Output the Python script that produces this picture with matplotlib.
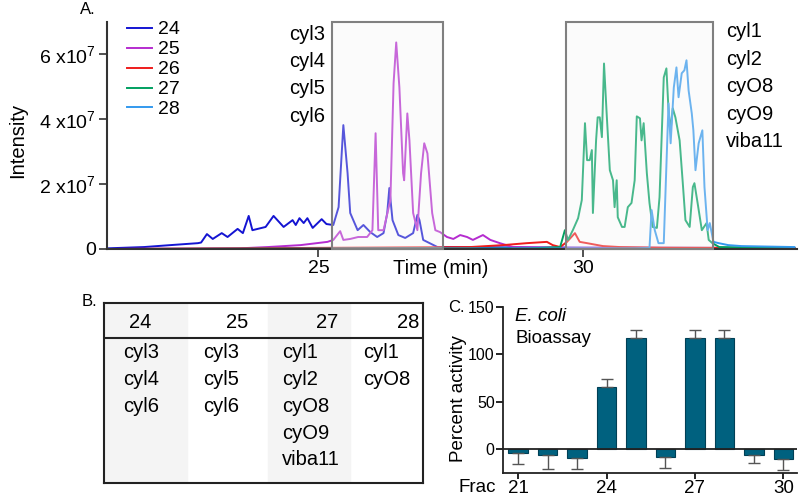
import matplotlib
matplotlib.use("Agg")
import matplotlib.pyplot as plt
from matplotlib.patches import Rectangle

plt.rcParams['font.family'] = ['Liberation Sans', 'DejaVu Sans']
plt.rcParams['mathtext.fontset'] = 'custom'
plt.rcParams['mathtext.rm'] = 'Liberation Sans'
plt.rcParams['mathtext.it'] = 'Liberation Sans:italic'

# --- A: chromatograms (intensity in units of 1e7) ---
t24 = [21.0, 21.7, 22.2, 22.72, 22.78, 22.89, 23.0, 23.17, 23.28, 23.47, 23.57, 23.68, 23.75, 24.0, 24.15,
       24.34, 24.51, 24.57, 24.64, 24.72, 24.79, 24.89, 25.06, 25.15, 25.28, 25.38, 25.47, 25.55, 25.6, 25.74,
       25.85, 25.98, 26.11, 26.23, 26.3, 26.34, 26.4, 26.51, 26.64, 26.79, 26.87, 26.91, 26.98, 27.25, 28.5,
       30.0, 34.0]
i24 = [0.02, 0.06, 0.12, 0.18, 0.2, 0.46, 0.31, 0.49, 0.37, 0.62, 0.49, 1.02, 0.58, 0.68, 1.02,
       0.68, 0.89, 0.74, 0.95, 0.8, 0.95, 0.65, 0.92, 0.77, 0.74, 1.29, 3.82, 2.34, 1.11, 0.58,
       0.74, 0.52, 0.37, 0.49, 1.11, 1.88, 0.89, 0.43, 0.34, 0.49, 1.05, 0.89, 0.28, 0.06, 0.05,
       0.04, 0.03]

t25 = [21.0, 23.5, 24.04, 24.66, 25.17, 25.28, 25.41, 25.47, 25.6, 25.75, 25.92, 26.02, 26.08, 26.13,
       26.23, 26.36, 26.42, 26.47, 26.53, 26.6, 26.62, 26.68, 26.72, 26.79, 26.87, 26.94, 27.0, 27.06,
       27.15, 27.21, 27.3, 27.43, 27.55, 27.68, 27.81, 27.92, 28.11, 28.25, 28.43, 28.68, 29.5, 34.0]
i25 = [0.0, 0.02, 0.06, 0.12, 0.22, 0.28, 0.55, 0.28, 0.31, 0.37, 0.37, 0.58, 3.57, 0.58,
       0.58, 1.51, 5.11, 6.37, 4.98, 2.34, 2.12, 4.18, 3.35, 1.11, 0.58, 2.34, 3.26, 2.95,
       1.11, 0.58, 0.52, 0.37, 0.31, 0.43, 0.37, 0.28, 0.43, 0.28, 0.18, 0.06, 0.04, 0.03]

t26 = [21.0, 27.87, 28.49, 28.94, 29.32, 29.43, 29.57, 29.7, 29.85, 29.94, 30.08, 30.38, 30.7, 31.5, 34.0]
i26 = [0.0, 0.06, 0.12, 0.18, 0.22, 0.12, 0.06, 0.22, 0.49, 0.22, 0.18, 0.09, 0.06, 0.04, 0.03]

t27 = [21.0, 29.0, 29.57, 29.66, 29.72, 29.81, 29.91, 29.98, 30.04, 30.08, 30.13, 30.17, 30.19, 30.25,
       30.28, 30.32, 30.36, 30.4, 30.45, 30.51, 30.57, 30.6, 30.64, 30.66, 30.74, 30.79, 30.85, 30.92,
       30.98, 31.02, 31.08, 31.11, 31.15, 31.21, 31.26, 31.32, 31.4, 31.45, 31.53, 31.58, 31.62, 31.66,
       31.7, 31.75, 31.83, 31.89, 31.94, 32.02, 32.08, 32.11, 32.17, 32.25, 32.34, 32.38, 32.45, 32.58, 34.0]
i27 = [0.0, 0.02, 0.06, 0.58, 0.28, 0.58, 0.95, 1.51, 3.88, 2.74, 2.74, 3.05, 1.11, 3.35,
       4.06, 4.06, 3.45, 5.72, 4.18, 2.43, 2.12, 1.29, 2.12, 0.98, 0.68, 0.68, 1.29, 1.42,
       2.12, 4.09, 4.03, 3.35, 3.88, 2.34, 1.42, 0.68, 0.65, 1.6, 5.29, 5.57, 4.28, 3.66,
       4.34, 4.06, 3.35, 2.03, 0.89, 0.68, 1.91, 2.03, 1.42, 0.58, 0.8, 0.28, 0.18, 0.06, 0.03]

t28 = [21.0, 31.0, 31.26, 31.3, 31.36, 31.43, 31.53, 31.62, 31.66, 31.72, 31.77, 31.81, 31.87, 31.92,
       31.96, 32.0, 32.06, 32.09, 32.13, 32.19, 32.26, 32.3, 32.36, 32.4, 32.47, 32.57, 32.75, 33.0, 34.0]
i28 = [0.0, 0.02, 0.03, 1.2, 0.58, 0.18, 0.18, 4.49, 3.26, 4.98, 5.6, 4.68, 5.42, 5.51,
       5.82, 4.89, 4.18, 3.66, 2.43, 3.26, 3.66, 1.91, 0.58, 0.8, 0.22, 0.18, 0.12, 0.09, 0.06]

trace_names = ["24", "25", "26", "27", "28"]
trace_colors = ["#1414d2", "#b52ccf", "#ee1c1c", "#00a060", "#3399ee"]

windows = [(25.25, 27.36), (29.68, 32.47)]
window1_labels = ["cyl3", "cyl4", "cyl5", "cyl6"]
window2_labels = ["cyl1", "cyl2", "cyO8", "cyO9", "viba11"]

# --- B: table ---
table_fracs = ["24", "25", "27", "28"]
table_compounds = [["cyl3", "cyl4", "cyl6"],
                   ["cyl3", "cyl5", "cyl6"],
                   ["cyl1", "cyl2", "cyO8", "cyO9", "viba11"],
                   ["cyl1", "cyO8"]]

# --- C: bioassay ---
fracs = [21, 22, 23, 24, 25, 26, 27, 28, 29, 30]
activity = [-4.5, -6.5, -9.5, 65.5, 117, -8.5, 117, 117, -6.3, -10.6]
act_err = [11.5, 14.5, 11.5, 8.5, 9, 11.5, 9, 9, 8.5, 11.4]

W, H = 800, 497
fig = plt.figure(figsize=(8, 4.97), dpi=100)

def px_axes(x0, y0, x1, y1):
    return fig.add_axes([x0 / W, 1 - y1 / H, (x1 - x0) / W, (y1 - y0) / H])

# ---------- panel A ----------
ax = px_axes(107, 22, 797, 249)
traces = [(t24, i24), (t25, i25), (t26, i26), (t27, i27), (t28, i28)]
for (t, inten), name, col in zip(traces, trace_names, trace_colors):
    ax.plot(t, inten, color=col, lw=1.4, label=name, zorder=2)

for (a, b) in windows:
    ax.add_patch(Rectangle((a, 0), b - a, 7.0, facecolor="#f2f2f2", alpha=0.3,
                           edgecolor="none", zorder=3))
    ax.add_patch(Rectangle((a, 0), b - a, 7.0, facecolor="none",
                           edgecolor="#808080", lw=1.5, zorder=4, clip_on=False))

ax.set_xlim(21.0, 34.05)
ax.set_ylim(0, 7.0)
for s in ["top", "right"]:
    ax.spines[s].set_visible(False)
for s in ["left", "bottom"]:
    ax.spines[s].set_linewidth(1.5)
    ax.spines[s].set_color("#333333")
ax.set_xticks([25, 30])
ax.set_xticklabels(["25", "30"])
ax.set_yticks([0, 2, 4, 6])
ax.set_yticklabels(["0", "2 x10$^7$", "4 x10$^7$", "6 x10$^7$"])
ax.tick_params(labelsize=14, length=6, width=1.2, color="#333333", pad=2)
ax.text(0.483, -0.084, "Time (min)", transform=ax.transAxes, ha="center", va="center", fontsize=14.5)
ax.text(-0.129, 0.48, "Intensity", transform=ax.transAxes, ha="center", va="center",
        rotation=90, fontsize=14.5)

leg = ax.legend(loc="upper left", bbox_to_anchor=(0.029, 1.005), frameon=False, fontsize=14,
                handlelength=1.3, handletextpad=0.3, labelspacing=0.12, borderpad=0,
                borderaxespad=0)

step = 0.121
for k, lab in enumerate(window1_labels):
    ax.text(0.316, 0.947 - k * step, lab, transform=ax.transAxes, ha="right", va="center", fontsize=14.5)
for k, lab in enumerate(window2_labels):
    ax.text(0.897, 0.956 - k * step, lab, transform=ax.transAxes, ha="left", va="center", fontsize=14.5)

fig.text(88 / W, 1 - 10 / H, "A.", ha="center", va="center", fontsize=12)
fig.text(89 / W, 1 - 302 / H, "B.", ha="center", va="center", fontsize=12)

# ---------- panel B ----------
tb = px_axes(104, 303, 423, 483)
tb.set_xlim(0, 319)
tb.set_ylim(180, 0)
tb.set_xticks([])
tb.set_yticks([])
for s in tb.spines.values():
    s.set_linewidth(1.5)
    s.set_color("#222222")
col_edges = [0, 83, 164, 246, 319]
for c in [0, 2]:
    tb.axvspan(col_edges[c], col_edges[c + 1], color="#f4f4f4", zorder=0)
tb.axhline(35, color="#222222", lw=1.5)
head_x = [36, 133, 223, 304]
body_x = [19, 99, 178, 259]
for c, (frac, comps) in enumerate(zip(table_fracs, table_compounds)):
    tb.text(head_x[c], 20, frac, ha="center", va="center", fontsize=14.5)
    for r, comp in enumerate(comps):
        tb.text(body_x[c], 50 + r * 26.7, comp, ha="left", va="center", fontsize=14.5)

# ---------- panel C ----------
bx = px_axes(503, 307, 797, 473)
err_lo = [e if v < 0 else 0 for v, e in zip(activity, act_err)]
err_hi = [e if v >= 0 else 0 for v, e in zip(activity, act_err)]
bx.bar(fracs, activity, width=0.67, color="#00617f", edgecolor="#003f55", lw=0.8, zorder=2)
bx.errorbar(fracs, activity, yerr=[err_lo, err_hi], fmt="none", ecolor="#555555",
            elinewidth=1, capsize=4, capthick=1, zorder=3)
bx.axhline(0, color="#222222", lw=1.3, zorder=4)
bx.set_xlim(20.49, 30.46)
bx.set_ylim(-25.4, 150)
for s in ["top", "right"]:
    bx.spines[s].set_visible(False)
for s in ["left", "bottom"]:
    bx.spines[s].set_linewidth(1.3)
    bx.spines[s].set_color("#222222")
bx.set_xticks([21, 24, 27, 30])
bx.set_yticks([0, 50, 100, 150])
bx.tick_params(axis="x", labelsize=13.5, length=4, width=1.2, pad=1)
bx.tick_params(axis="y", labelsize=11.5, length=5, width=1.2, pad=1)
bx.text(-0.088, -0.085, "Frac", transform=bx.transAxes, ha="center", va="center", fontsize=13.5)
bx.text(-0.16, 1.0, "C.", transform=bx.transAxes, ha="center", va="center", fontsize=12)
bx.text(-0.152, 0.45, "Percent activity", transform=bx.transAxes, ha="center", va="center",
        rotation=90, fontsize=13.5)
bx.text(0.041, 0.94, "E. coli", transform=bx.transAxes, ha="left", va="center",
        fontsize=13.5, style="italic")
bx.text(0.041, 0.813, "Bioassay", transform=bx.transAxes, ha="left", va="center", fontsize=13.5)

fig.savefig("out.png", dpi=100)
